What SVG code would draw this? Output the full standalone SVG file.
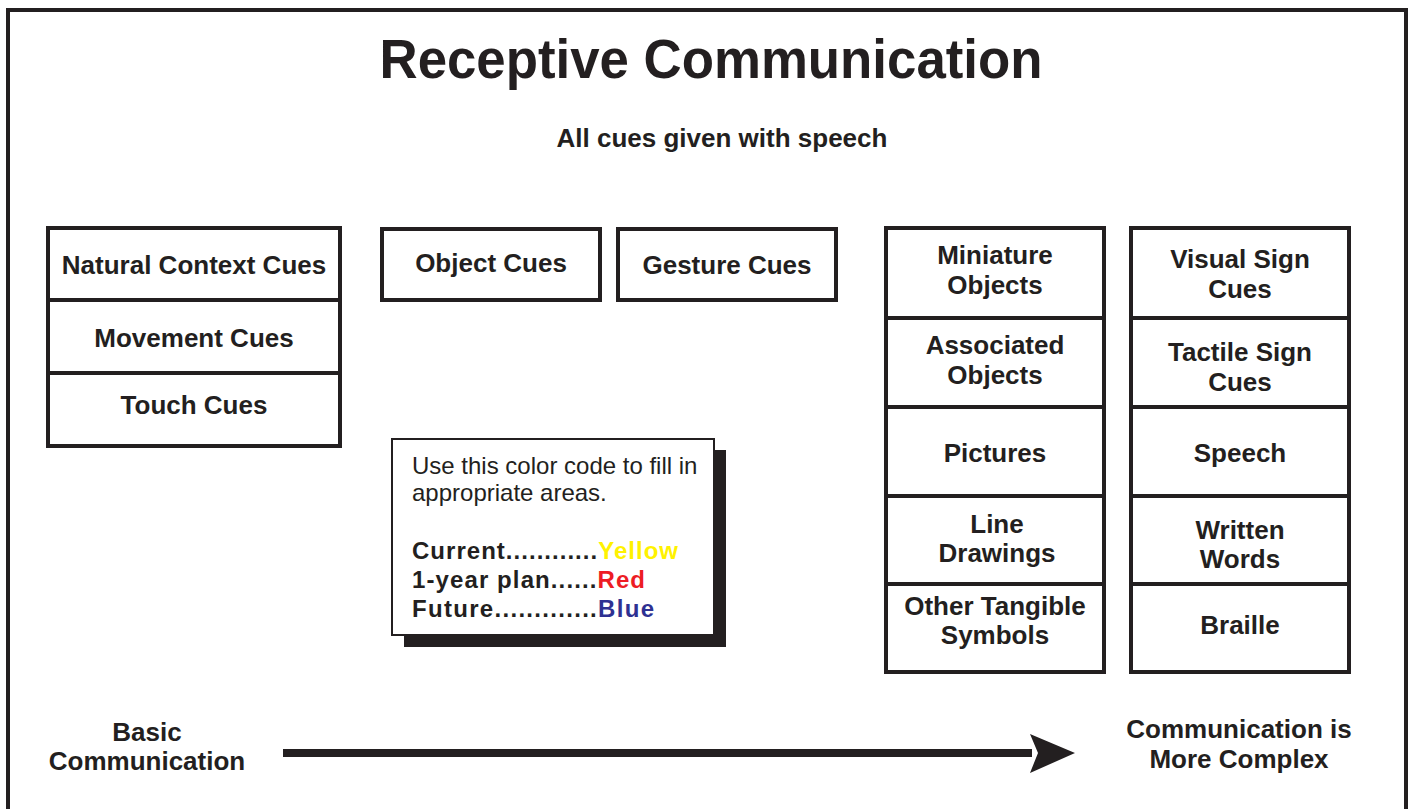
<svg xmlns="http://www.w3.org/2000/svg" width="1409" height="809" viewBox="0 0 1409 809">
<style>
.frame{fill:none;stroke:#231f20;stroke-width:4}
.box{fill:#fff;stroke:#231f20;stroke-width:4}
.lbl{font-family:"Liberation Sans",Arial,sans-serif;font-weight:bold;font-size:26px;fill:#231f20;text-anchor:middle}
.leg{font-family:"Liberation Sans",Arial,sans-serif;font-size:24px;fill:#231f20}
.legb{font-family:"Liberation Sans",Arial,sans-serif;font-size:24px;font-weight:bold;fill:#231f20}
</style>
<rect x="0" y="0" width="1409" height="809" fill="#fff"/>
<rect class="frame" x="8" y="10" width="1398" height="820"/>
<text x="711" y="78" class="lbl" style="font-size:55px" textLength="663" lengthAdjust="spacingAndGlyphs">Receptive Communication</text>
<text x="722" y="147" class="lbl">All cues given with speech</text>

<g id="natural-context-cues"><rect class="box" x="48" y="228" width="292" height="72"/><text x="194" y="274" class="lbl">Natural Context Cues</text></g>
<g id="movement-cues"><rect class="box" x="48" y="300" width="292" height="73"/><text x="194" y="347" class="lbl">Movement Cues</text></g>
<g id="touch-cues"><rect class="box" x="48" y="373" width="292" height="73"/><text x="194" y="414" class="lbl">Touch Cues</text></g>

<g id="object-cues"><rect class="box" x="382" y="229" width="218" height="71"/><text x="491" y="272" class="lbl">Object Cues</text></g>
<g id="gesture-cues"><rect class="box" x="618" y="229" width="218" height="71"/><text x="727" y="274" class="lbl">Gesture Cues</text></g>

<g id="miniature-objects"><rect class="box" x="886" y="228" width="218" height="90"/><text x="995" y="264" class="lbl">Miniature</text><text x="995" y="294" class="lbl">Objects</text></g>
<g id="associated-objects"><rect class="box" x="886" y="318" width="218" height="89"/><text x="995" y="354" class="lbl">Associated</text><text x="995" y="384" class="lbl">Objects</text></g>
<g id="pictures"><rect class="box" x="886" y="407" width="218" height="89"/><text x="995" y="462" class="lbl">Pictures</text></g>
<g id="line-drawings"><rect class="box" x="886" y="496" width="218" height="88"/><text x="997" y="533" class="lbl">Line</text><text x="997" y="562" class="lbl">Drawings</text></g>
<g id="other-tangible-symbols"><rect class="box" x="886" y="584" width="218" height="88"/><text x="995" y="615" class="lbl">Other Tangible</text><text x="995" y="644" class="lbl">Symbols</text></g>

<g id="visual-sign-cues"><rect class="box" x="1131" y="228" width="218" height="90"/><text x="1240" y="268" class="lbl">Visual Sign</text><text x="1240" y="298" class="lbl">Cues</text></g>
<g id="tactile-sign-cues"><rect class="box" x="1131" y="318" width="218" height="89"/><text x="1240" y="361" class="lbl">Tactile Sign</text><text x="1240" y="391" class="lbl">Cues</text></g>
<g id="speech"><rect class="box" x="1131" y="407" width="218" height="89"/><text x="1240" y="462" class="lbl">Speech</text></g>
<g id="written-words"><rect class="box" x="1131" y="496" width="218" height="88"/><text x="1240" y="539" class="lbl">Written</text><text x="1240" y="568" class="lbl">Words</text></g>
<g id="braille"><rect class="box" x="1131" y="584" width="218" height="88"/><text x="1240" y="634" class="lbl">Braille</text></g>

<g id="legend">
<rect x="404" y="450" width="322" height="197" fill="#231f20"/>
<rect x="392" y="439" width="322" height="196" fill="#fff" stroke="#231f20" stroke-width="2"/>
<text x="412" y="474" class="leg">Use this color code to fill in</text>
<text x="412" y="501" class="leg">appropriate areas.</text>
<text x="412" y="559" class="legb" textLength="266">Current............<tspan fill="#fff200">Yellow</tspan></text>
<text x="412" y="588" class="legb" textLength="233">1-year plan......<tspan fill="#ed1c24">Red</tspan></text>
<text x="412" y="617" class="legb" textLength="242">Future.............<tspan fill="#2e3192">Blue</tspan></text>
</g>

<g id="basic-communication"><text x="147" y="741" class="lbl">Basic</text><text x="147" y="770" class="lbl">Communication</text></g>
<g id="more-complex"><text x="1239" y="738" class="lbl">Communication is</text><text x="1239" y="768" class="lbl">More Complex</text></g>

<g id="connectors">
<line x1="283" y1="753" x2="1032" y2="753" stroke="#231f20" stroke-width="8"/>
<polygon points="1030,734 1075,753 1030,773 1038,753" fill="#231f20"/>
</g>
</svg>
